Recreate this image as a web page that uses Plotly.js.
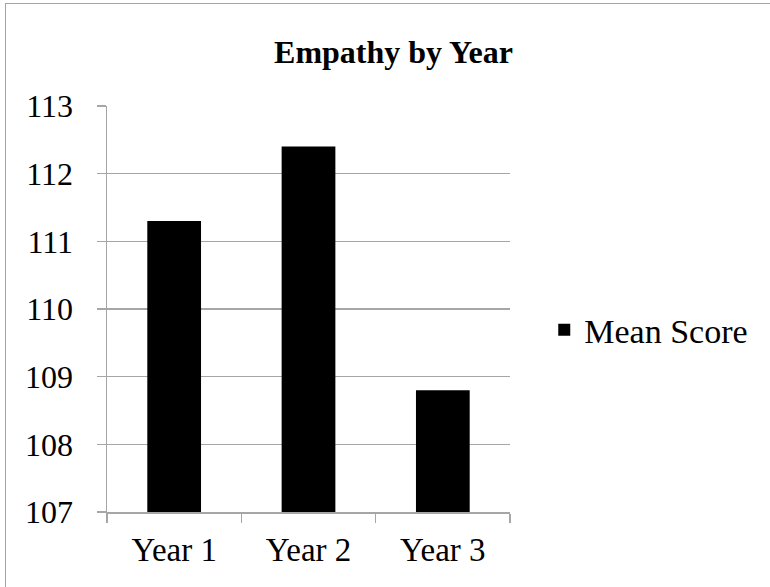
<!DOCTYPE html>
<html>
<head>
<meta charset="utf-8">
<script src="https://cdn.plot.ly/plotly-3.0.1.min.js"></script>
<style>
  html, body { margin: 0; padding: 0; overflow: hidden; background: #ffffff; }
  #chart { position: absolute; left: 0; top: 0; width: 770px; height: 587px; }
  #frame {
    position: absolute; left: 5px; top: 3px; width: 900px; height: 800px;
    border-left: 1.5px solid #a3a3a3; border-top: 1.5px solid #a3a3a3;
    pointer-events: none;
  }
</style>
</head>
<body>
<div id="chart"></div>
<div id="frame"></div>
<script>
// Mean empathy score per study year
const years = ["Year 1", "Year 2", "Year 3"];
const meanScores = [111.3, 112.4, 108.8];
const seriesName = "Mean Score";
const yTicks = [107, 108, 109, 110, 111, 112, 113];

const serif = "Liberation Serif, DejaVu Serif, serif";
const gridColor = "#a6a6a6";

const trace = {
  type: "bar",
  x: years,
  y: meanScores,
  name: seriesName,
  marker: { color: "#000000", line: { width: 0 } },
  showlegend: true,
  hoverinfo: "x+y"
};

const layout = {
  width: 770,
  height: 587,
  margin: { l: 107, r: 260, t: 106, b: 75, pad: 0 },
  paper_bgcolor: "#ffffff",
  plot_bgcolor: "#ffffff",
  font: { family: serif, size: 32, color: "#000000" },
  title: {
    text: "<b>Empathy by Year</b>",
    font: { family: serif, size: 32, color: "#000000" },
    xref: "container", x: 0.511, xanchor: "center",
    yref: "container", y: 1 - 52 / 587, yanchor: "middle"
  },
  bargap: 0.6,
  showlegend: true,
  legend: {
    x: 1.085, xanchor: "left",
    y: 0.448, yanchor: "middle",
    font: { family: serif, size: 34, color: "#000000" },
    bgcolor: "rgba(0,0,0,0)",
    borderwidth: 0
  },
  xaxis: {
    type: "category",
    showline: true, linecolor: gridColor, linewidth: 1.5,
    ticks: "outside", tickson: "boundaries", ticklen: 9, tickwidth: 1.5, tickcolor: gridColor,
    showgrid: false, zeroline: false,
    tickfont: { family: serif, size: 33, color: "#000000" },
    ticklabelstandoff: 8
  },
  yaxis: {
    range: [107, 113],
    tickvals: yTicks,
    ticktext: yTicks.map(String),
    showline: true, linecolor: gridColor, linewidth: 1.5,
    ticks: "outside", ticklen: 9, tickwidth: 1.5, tickcolor: gridColor,
    showgrid: true, gridcolor: gridColor, gridwidth: 1.5,
    zeroline: false,
    tickfont: { family: serif, size: 32, color: "#000000" },
    ticklabelstandoff: 17
  }
};

Plotly.newPlot("chart", [trace], layout, { displayModeBar: false, staticPlot: true });
</script>
</body>
</html>
